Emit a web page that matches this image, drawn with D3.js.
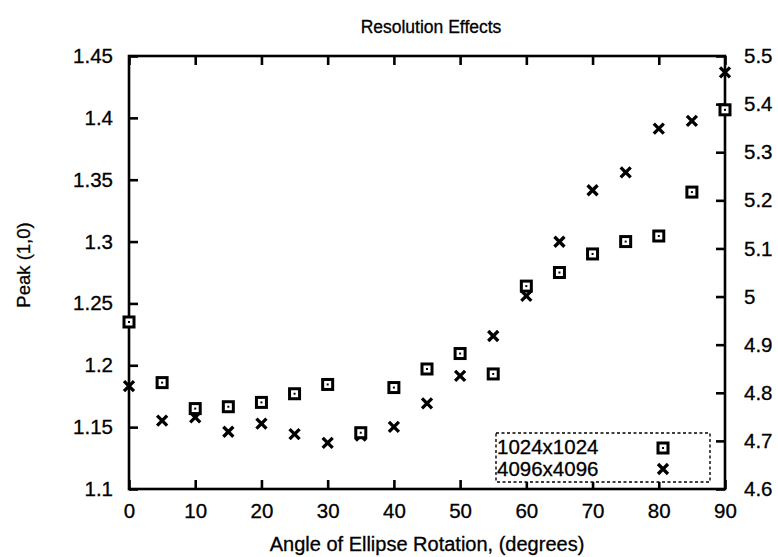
<!DOCTYPE html>
<html>
<head>
<meta charset="utf-8">
<script src="https://cdn.jsdelivr.net/npm/d3@7/dist/d3.min.js"></script>
<style>
  html, body { margin: 0; padding: 0; background: #fff; }
  svg { display: block; }
  text { font-family: "Liberation Sans", Arial, Helvetica, sans-serif; fill: #000; stroke: #000; stroke-width: 0.3px; }
</style>
</head>
<body>
<svg id="chart" width="778" height="557"></svg>
<script>
// Rotation angles (degrees)
const angles = [0, 5, 10, 15, 20, 25, 30, 35, 40, 45, 50, 55, 60, 65, 70, 75, 80, 85, 90];
// 1024x1024 peak values (left axis)
const peak1024 = [1.235, 1.186, 1.165, 1.1665, 1.170, 1.177, 1.1845, 1.1455, 1.182, 1.197,
                  1.2095, 1.193, 1.264, 1.275, 1.290, 1.300, 1.3045, 1.340, 1.4065];
// 4096x4096 peak values (right axis)
const peak4096 = [4.814, 4.742, 4.749, 4.719, 4.736, 4.714, 4.696, 4.711, 4.729, 4.778,
                  4.835, 4.918, 5.0015, 5.114, 5.221, 5.258, 5.349, 5.365, 5.466];
const xTicks = [0, 10, 20, 30, 40, 50, 60, 70, 80, 90];
const yLeftTicks = [1.1, 1.15, 1.2, 1.25, 1.3, 1.35, 1.4, 1.45];
const yRightTicks = [4.6, 4.7, 4.8, 4.9, 5, 5.1, 5.2, 5.3, 5.4, 5.5];
const seriesNames = ["1024x1024", "4096x4096"];

const svg = d3.select("#chart");
const m = { left: 129, right: 725, top: 56, bottom: 489 };

const x = d3.scaleLinear().domain([0, 90]).range([m.left, m.right]);
const yL = d3.scaleLinear().domain([1.1, 1.45]).range([m.bottom, m.top]);
const yR = d3.scaleLinear().domain([4.6, 5.5]).range([m.bottom, m.top]);

const tickFont = "20.5px";
const axisW = 2.6;
const tickLen = 9;

function styleAxis(g) {
  g.select(".domain").remove();
  g.selectAll(".tick line").attr("stroke", "#000").attr("stroke-width", axisW);
  g.selectAll(".tick text").style("font-size", tickFont).attr("fill", "#000");
}

// bottom axis (ticks pointing into the plot)
svg.append("g")
  .attr("transform", `translate(0,${m.bottom})`)
  .call(d3.axisBottom(x).tickValues(xTicks).tickSize(-tickLen).tickPadding(14).tickFormat(d3.format("d")))
  .call(styleAxis);

// top axis: tick marks only
svg.append("g")
  .attr("transform", `translate(0,${m.top})`)
  .call(d3.axisTop(x).tickValues(xTicks).tickSize(-tickLen).tickFormat(""))
  .call(styleAxis);

// left axis
svg.append("g")
  .attr("transform", `translate(${m.left},0)`)
  .call(d3.axisLeft(yL).tickValues(yLeftTicks).tickSize(-tickLen).tickPadding(16).tickFormat(d => String(+d.toFixed(2))))
  .call(styleAxis);

// right axis
svg.append("g")
  .attr("transform", `translate(${m.right},0)`)
  .call(d3.axisRight(yR).tickValues(yRightTicks).tickSize(-tickLen).tickPadding(19).tickFormat(d => String(+d.toFixed(1))))
  .call(styleAxis);

// frame
svg.append("rect")
  .attr("x", m.left).attr("y", m.top)
  .attr("width", m.right - m.left).attr("height", m.bottom - m.top)
  .attr("fill", "none").attr("stroke", "#000").attr("stroke-width", axisW);

// markers
function squareMark(g, cx, cy) {
  g.append("rect")
    .attr("x", cx - 5).attr("y", cy - 5).attr("width", 10).attr("height", 10)
    .attr("fill", "#fff").attr("stroke", "#000").attr("stroke-width", 3);
  g.append("rect")
    .attr("x", cx - 1).attr("y", cy - 1).attr("width", 2).attr("height", 2)
    .attr("fill", "#000");
}
function crossMark(g, cx, cy) {
  const s = 5;
  g.append("path")
    .attr("d", `M${cx - s},${cy - s}L${cx + s},${cy + s}M${cx - s},${cy + s}L${cx + s},${cy - s}`)
    .attr("stroke", "#000").attr("stroke-width", 3.3).attr("fill", "none");
}

const marks = svg.append("g");
angles.forEach((a, i) => crossMark(marks, x(a), yR(peak4096[i])));
angles.forEach((a, i) => squareMark(marks, x(a), yL(peak1024[i])));

// legend
const lg = svg.append("g");
lg.append("rect")
  .attr("x", 496).attr("y", 433).attr("width", 214).attr("height", 49)
  .attr("fill", "#fff").attr("stroke", "#000").attr("stroke-width", 1.4)
  .attr("stroke-dasharray", "3,2.5");
lg.append("text").attr("x", 497).attr("y", 454).style("font-size", "20.5px").text(seriesNames[0]);
lg.append("text").attr("x", 497).attr("y", 476).style("font-size", "20.5px").text(seriesNames[1]);
squareMark(lg, 663, 448);
crossMark(lg, 663, 469);

// title and axis labels
svg.append("text")
  .attr("x", 431).attr("y", 33).attr("text-anchor", "middle")
  .style("font-size", "17.5px").text("Resolution Effects");

svg.append("text")
  .attr("x", 427).attr("y", 551).attr("text-anchor", "middle")
  .style("font-size", "20px").text("Angle of Ellipse Rotation, (degrees)");

svg.append("text")
  .attr("transform", `translate(30,265) rotate(-90)`)
  .attr("text-anchor", "middle")
  .style("font-size", "18.5px").text("Peak (1,0)");
</script>
</body>
</html>
